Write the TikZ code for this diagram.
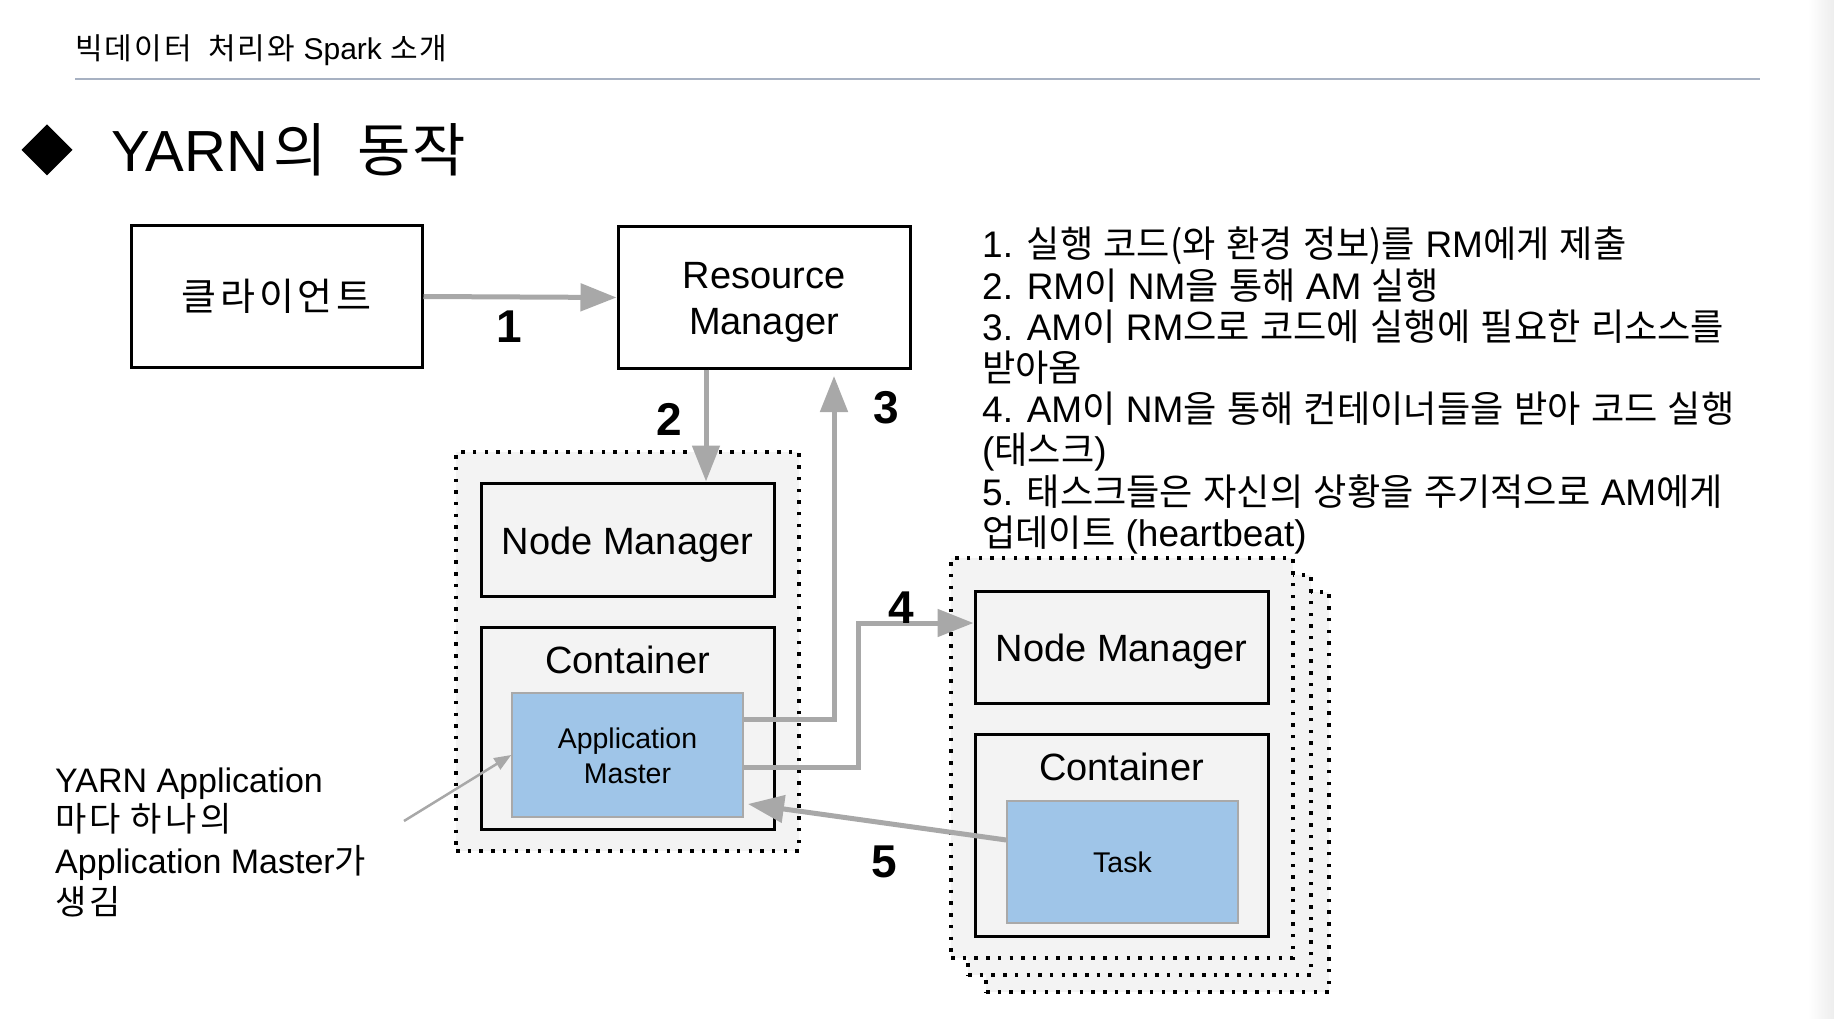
\documentclass[tikz,border=0pt]{standalone}
\usepackage{fontspec}
\setmainfont{Liberation Sans}
\newfontfamily\kofont[FakeStretch=0.978]{Noto Sans CJK KR}
\newfontfamily\kohdr[LetterSpace=7]{Noto Sans CJK KR}
\newfontfamily\kottl{Noto Sans CJK KR}
\newfontfamily\kobox[LetterSpace=10]{Noto Sans CJK KR}
\usetikzlibrary{arrows.meta,calc}
\definecolor{arrowgray}{HTML}{A8A8A8}
\definecolor{groupfill}{HTML}{F3F3F3}
\definecolor{amblue}{HTML}{9FC5E8}
\definecolor{amborder}{HTML}{A9A9A9}
\definecolor{ruleblue}{HTML}{A7B1C2}
\let\kocur\kofont
\newcommand\hg[1]{{\kocur\spaceskip=0.28em\relax #1}}
\tikzset{
  boxw/.style={draw=black, line width=3pt, fill=white, inner sep=0pt},
  boxg/.style={draw=black, line width=3pt, fill=groupfill, inner sep=0pt},
  bluebox/.style={draw=amborder, line width=1.5pt, fill=amblue, inner sep=0pt},
  grp/.style={draw=black, fill=groupfill, line width=3.5pt, dash pattern=on 3.5pt off 8.2pt, inner sep=0pt, minimum width=343pt, minimum height=399pt},
  arr/.style={draw=arrowgray, line width=5pt, -{Triangle[length=36pt,width=27pt]}},
  thinarr/.style={draw=arrowgray, line width=2.5pt, -{Triangle[length=17pt,width=13pt]}},
  txt/.style={inner sep=0pt, anchor=base},
  ltxt/.style={inner sep=0pt, anchor=base west},
  fbig/.style={font=\fontsize{38}{46}\selectfont},
  fsmall/.style={font=\fontsize{28.5}{34}\selectfont},
  fnum/.style={font=\fontsize{46}{52}\selectfont\bfseries},
  fstep/.style={font=\fontsize{37}{41}\selectfont\let\kocur\kofont},
  fann/.style={font=\fontsize{34}{40}\selectfont\let\kocur\kobox},
}
\begin{document}
\begin{tikzpicture}[x=1pt,y=-1pt]
\useasboundingbox (0,0) rectangle (1834,1019);
\fill[white] (0,0) rectangle (1834,1019);
\shade[left color=white, right color=black!7] (1808,0) rectangle (1834,1019);

% header
\node[ltxt, font=\fontsize{30}{36}\selectfont\let\kocur\kohdr] (hdr) at (75,60) {\hg{빅데이터}\hspace{8pt} \hg{처리와} Spark \hg{소개}};
\draw[ruleblue, line width=2pt] (75,79) -- (1760,79);

% title
\fill[black] (47,124.5) -- (72.5,150) -- (47,175.5) -- (21.5,150) -- cycle;
\node[ltxt, font=\fontsize{58}{70}\selectfont\let\kocur\kottl] (ttl) at (111,172) {YARN\kern5pt\hg{의}\kern15pt{} \hg{동}\kern2pt\hg{작}};

% group boxes
\node[grp] (grpL) at (627.5,651.5) {};
\node[grp, minimum width=343pt, minimum height=400pt] (grpR3) at (1157.5,792) {};
\node[grp, minimum width=343pt, minimum height=400pt] (grpR2) at (1139.5,775) {};
\node[grp, minimum width=342pt, minimum height=400pt] (grpR1) at (1122,758) {};

% client & RM
\node[boxw, font=\fontsize{38}{46}\selectfont\let\kocur\kobox, minimum width=291pt, minimum height=141pt] (client) at (276.5,296.5) {\hg{클라이언트}};
\node[boxw, minimum width=292pt, minimum height=141pt] (rm) at (764,297.5) {};
\node[txt, fbig] (rmt1) at (764,288) {Resource};
\node[txt, fbig] (rmt2) at (764,334) {Manager};

% left node
\node[boxg, minimum width=293pt, minimum height=113pt] (lnm) at (627.5,539.5) {};
\node[txt, fbig] (lnmt) at (627.5,554) {Node Manager};
\node[boxg, minimum width=293pt, minimum height=202pt] (lcont) at (627.5,728) {};
\node[txt, fbig] (lcontt) at (627.5,673) {Container};
\node[bluebox, minimum width=231pt, minimum height=124pt] (am) at (627.5,755) {};
\node[txt, fsmall] (amt1) at (627.5,748) {Application};
\node[txt, fsmall] (amt2) at (627.5,783) {Master};

% right node
\node[boxg, minimum width=293pt, minimum height=112pt] (rnm) at (1121.5,647) {};
\node[txt, fbig] (rnmt) at (1121.5,661) {Node Manager};
\node[boxg, minimum width=293pt, minimum height=202pt] (rcont) at (1121.5,835) {};
\node[txt, fbig] (rcontt) at (1121.5,780) {Container};
\node[bluebox, minimum width=231pt, minimum height=122pt] (task) at (1122.5,862) {};
\node[txt, fsmall] (taskt) at (1122.5,872) {Task};

% arrows
\coordinate (a2x) at (706,0);
\coordinate (a3c) at (834,719);
\coordinate (a3t) at (834,376);
\coordinate (a4c1) at (858,767);
\coordinate (a4c2) at (858,623);
\coordinate (a5s) at (1007,840);
\coordinate (a5t) at (748,804);
\coordinate (annstart) at (404,821);

\draw[arr] (client.east) -- (rm.west);
\draw[arr] (rm.south -| a2x) -- (lnm.north -| a2x);
\draw[arr] (am.east |- a3c) -- (a3c) -- (a3t);
\draw[arr] (am.east |- a4c1) -- (a4c1) -- (a4c2) -- (rnm.west |- a4c2);
\draw[arr] (task.west |- a5s) -- (a5t);
\draw[thinarr] (annstart) -- (am.west);

% numbers
\node[txt, fnum] (lab1) at (509,342) {1};
\node[txt, fnum] (lab2) at (669,435) {2};
\node[txt, fnum] (lab3) at (886,423) {3};
\node[txt, fnum] (lab4) at (901,623) {4};
\node[txt, fnum] (lab5) at (884,877) {5};

% steps
\node[ltxt, fstep] (s1) at (982,258) {1. \hg{실행 코드(와 환경 정보)를} RM\hg{에게 제출}};
\node[ltxt, fstep] (s2) at (982,299) {2. RM\hg{이} NM\hg{을 통해} AM \hg{실행}};
\node[ltxt, fstep] (s3) at (982,340) {3. AM\hg{이} RM\hg{으로 코드에 실행에 필요한 리소스를}};
\node[ltxt, fstep] (s4) at (982,381) {\hg{받아옴}};
\node[ltxt, fstep] (s5) at (982,422) {4. AM\hg{이} NM\hg{을 통해 컨테이너들을 받아 코드 실행}};
\node[ltxt, fstep] (s6) at (982,463) {(\hg{태스크})};
\node[ltxt, fstep] (s7) at (982,505) {5. \hg{태스크들은 자신의 상황을 주기적으로} AM\hg{에게}};
\node[ltxt, fstep] (s8) at (982,546) {\hg{업데이트} (heartbeat)};

% annotation
\node[ltxt, fann] (ann1) at (55,792) {YARN Application};
\node[ltxt, fann] (ann2) at (55,831) {\hg{마다 하나의}};
\node[ltxt, fann] (ann3) at (55,873) {Application Master\hg{가}};
\node[ltxt, fann] (ann4) at (55,914) {\hg{생김}};
\end{tikzpicture}
\end{document}
